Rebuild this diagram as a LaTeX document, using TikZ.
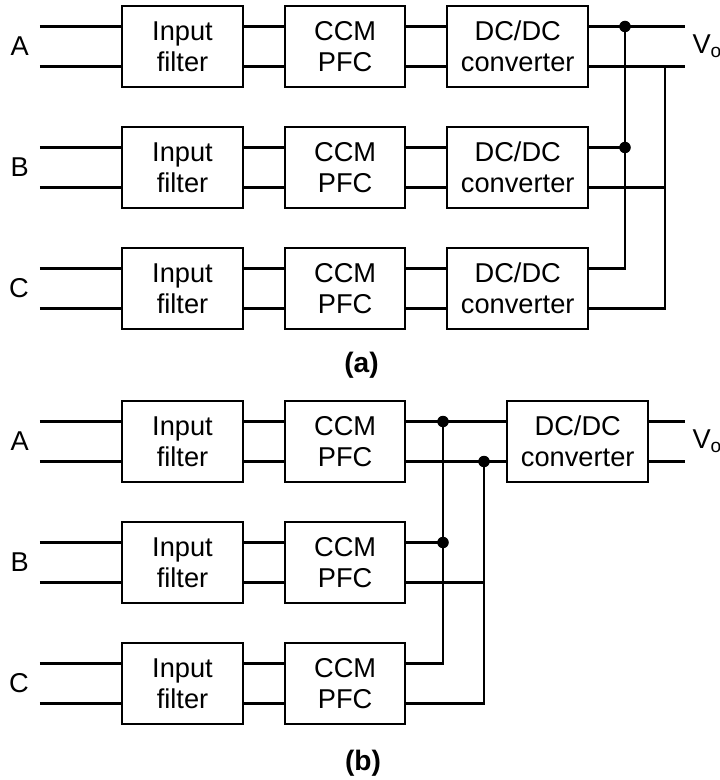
\documentclass[tikz,border=0pt]{standalone}
\usepackage{fontspec}
\setmainfont{Liberation Sans}
\usepackage{tikz}
\usetikzlibrary{positioning,calc}

\begin{document}
\begin{tikzpicture}[node distance=0.8cm, line width=1.2pt,
    blocco/.style={rectangle, draw, minimum width=2.42cm, minimum height=1.62cm, align=center, font=\fontsize{15.5}{17.5}\selectfont},
    etichetta/.style={font=\fontsize{15.5}{17.5}\selectfont},
    nodo/.style={circle, fill, inner sep=0pt, minimum size=2.3mm}]
  \useasboundingbox (0,0) rectangle (14.38,-15.6);
  % colonne dei collegamenti
  \coordinate (busa1) at (12.5,0);
  \coordinate (busa2) at (13.3,0);
  \coordinate (busb1) at (8.86,0);
  \coordinate (busb2) at (9.68,0);
  \coordinate (uscita) at (13.7,0);

  % Schema (a) e schema (b): filtri e PFC per le tre fasi
  \foreach \r/\i in {A/0,B/1,C/2}{
    \foreach \s/\y in {a/-0.93,b/-8.83}{
      \node[blocco] (f\s\r) at (3.65,\y-2.42*\i) {Input\\filter};
      \node[blocco, minimum width=2.4cm, right=of f\s\r] (p\s\r) {CCM\\PFC};
      \coordinate (in\s\r) at ($(f\s\r.west)-(1.62,0)$);
      \node[etichetta, inner sep=0pt, left=0.2cm of in\s\r] (lab\s\r) {\r};
      \draw ([yshift=4mm]in\s\r) -- ([yshift=4mm]f\s\r.west);
      \draw ([yshift=-4mm]in\s\r) -- ([yshift=-4mm]f\s\r.west);
      \draw ([yshift=4mm]f\s\r.east) -- ([yshift=4mm]p\s\r.west);
      \draw ([yshift=-4mm]f\s\r.east) -- ([yshift=-4mm]p\s\r.west);
      \coordinate (p\s\r1) at ([yshift=4mm]p\s\r.east);
      \coordinate (p\s\r2) at ([yshift=-4mm]p\s\r.east);
    }
    % Prima: un convertitore per fase
    \node[blocco, minimum width=2.82cm, right=of pa\r] (da\r) {DC/DC\\converter};
    \draw (pa\r1) -- ([yshift=4mm]da\r.west);
    \draw (pa\r2) -- ([yshift=-4mm]da\r.west);
    \coordinate (da\r1) at ([yshift=4mm]da\r.east);
    \coordinate (da\r2) at ([yshift=-4mm]da\r.east);
  }

  % uscite (a)
  \draw (daA1) -- (daA1 -| uscita);
  \draw (daA2) -- (daA2 -| uscita);
  \node[etichetta, inner sep=0pt, anchor=west] (voa) at ($(daA.east -| uscita)+(0.13,0)$) {V\textsubscript{o}};
  \draw (daB1) -- (daB1 -| busa1);
  \draw (daC1) -| (daA1 -| busa1);
  \draw (daB2) -- (daB2 -| busa2);
  \draw (daC2) -| (daA2 -| busa2);
  \node[nodo] (na1) at (daA1 -| busa1) {};
  \node[nodo] (na2) at (daB1 -| busa1) {};
  \node[font=\fontsize{16}{18}\selectfont\bfseries] (tita) at (7.23,-7.3) {(a)};

  % Dopo: un solo convertitore
  \node[blocco, minimum width=2.82cm, right=2cm of pbA] (db) {DC/DC\\converter};
  \draw (pbA1) -- ([yshift=4mm]db.west);
  \draw (pbA2) -- ([yshift=-4mm]db.west);
  \draw (pbB1) -- (pbB1 -| busb1);
  \draw (pbC1) -| (pbA1 -| busb1);
  \draw (pbB2) -- (pbB2 -| busb2);
  \draw (pbC2) -| (pbA2 -| busb2);
  \node[nodo] (nb1) at (pbA1 -| busb1) {};
  \node[nodo] (nb2) at (pbB1 -| busb1) {};
  \node[nodo] (nb3) at (pbA2 -| busb2) {};
  \draw ([yshift=4mm]db.east) -- ([yshift=4mm]db.east -| uscita);
  \draw ([yshift=-4mm]db.east) -- ([yshift=-4mm]db.east -| uscita);
  \node[etichetta, inner sep=0pt, anchor=west] (vob) at ($(db.east -| uscita)+(0.13,0)$) {V\textsubscript{o}};
  \node[font=\fontsize{16}{18}\selectfont\bfseries] (titb) at (7.26,-15.27) {(b)};
\end{tikzpicture}
\end{document}
